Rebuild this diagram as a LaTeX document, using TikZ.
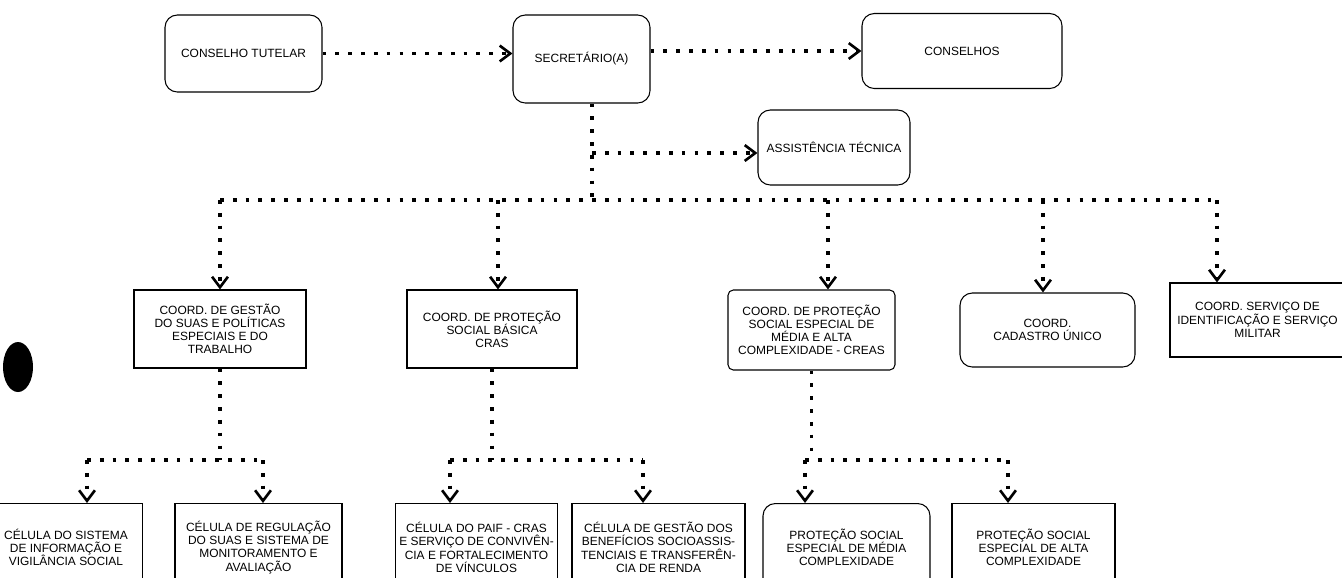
\documentclass[tikz,border=0pt]{standalone}
\usepackage{fontspec}
\setmainfont{Liberation Sans}
\usetikzlibrary{arrows.meta,calc}
\newcommand{\orgfont}{\fontsize{6.8}{7.5}\selectfont}
\tikzset{
  orgbox/.style={draw, line width=0.6pt, align=center, font=\orgfont, inner sep=2pt},
  orgrbox/.style={orgbox, rounded corners=7pt},
  link/.style={line width=2.1pt, dash pattern=on 2.1pt off 5.2pt},
  arr/.style={link, -{Straight Barb[length=6pt,width=9pt,line width=1.5pt]}}
}
\begin{document}
\begin{tikzpicture}
\clip (0,0) rectangle (26.84,-11.54);
\fill[white] (0,0) rectangle (26.84,-11.54);

\node[orgrbox, minimum width=3.14cm, minimum height=1.54cm] (tutelar) at (4.87,-1.07) {CONSELHO TUTELAR};
\node[orgrbox, minimum width=2.74cm, minimum height=1.76cm] (sec) at (11.63,-1.18) {SECRETÁRIO(A)};
\node[orgrbox, minimum width=4.00cm, minimum height=1.50cm] (cons) at (19.24,-1.02) {CONSELHOS};
\node[orgrbox, minimum width=3.04cm, minimum height=1.50cm] (assist) at (16.68,-2.95) {ASSISTÊNCIA TÉCNICA};

\node[orgbox, minimum width=3.44cm, minimum height=1.56cm] (m1) at (4.40,-6.58) {COORD. DE GESTÃO\\DO SUAS E POLÍTICAS\\ESPECIAIS E DO\\TRABALHO};
\node[orgbox, minimum width=3.40cm, minimum height=1.56cm] (m2) at (9.84,-6.58) {COORD. DE PROTEÇÃO\\SOCIAL BÁSICA\\CRAS};
\node[orgbox, rounded corners=3pt, minimum width=3.34cm, minimum height=1.60cm] (m3) at (16.23,-6.60) {COORD. DE PROTEÇÃO\\SOCIAL ESPECIAL DE\\MÉDIA E ALTA\\COMPLEXIDADE - CREAS};
\node[orgrbox, minimum width=3.50cm, minimum height=1.48cm] (m4) at (20.95,-6.60) {COORD.\\CADASTRO ÚNICO};
\node[orgbox, minimum width=3.50cm, minimum height=1.48cm] (m5) at (25.15,-6.40) {COORD. SERVIÇO DE\\IDENTIFICAÇÃO E SERVIÇO\\MILITAR};

\node[orgbox, anchor=north, minimum width=3.06cm, minimum height=1.75cm] (b1) at (1.32,-10.06) {CÉLULA DO SISTEMA\\DE INFORMAÇÃO E\\VIGILÂNCIA SOCIAL};
\node[orgbox, anchor=north, minimum width=3.34cm, minimum height=1.75cm] (b2) at (5.17,-10.06) {CÉLULA DE REGULAÇÃO\\DO SUAS E SISTEMA DE\\MONITORAMENTO E\\AVALIAÇÃO};
\node[orgbox, anchor=north, minimum width=2.74cm, minimum height=1.75cm] (b3) at (9.53,-10.06) {CÉLULA DO PAIF - CRAS\\E SERVIÇO DE CONVIVÊN-\\CIA E FORTALECIMENTO\\DE VÍNCULOS};
\node[orgbox, anchor=north, minimum width=3.46cm, minimum height=1.75cm] (b4) at (13.17,-10.06) {CÉLULA DE GESTÃO DOS\\BENEFÍCIOS SOCIOASSIS-\\TENCIAIS E TRANSFERÊN-\\CIA DE RENDA};
\node[orgrbox, anchor=north, minimum width=3.34cm, minimum height=1.75cm] (b5) at (16.93,-10.06) {PROTEÇÃO SOCIAL\\ESPECIAL DE MÉDIA\\COMPLEXIDADE};
\node[orgbox, anchor=north, minimum width=3.26cm, minimum height=1.75cm] (b6) at (20.67,-10.06) {PROTEÇÃO SOCIAL\\ESPECIAL DE ALTA\\COMPLEXIDADE};

\coordinate (jA) at (11.84,-3.06);
\coordinate (jB) at (11.84,-4.00);
\coordinate (d1) at (4.40,-4.00);
\coordinate (d2) at (9.96,-4.00);
\coordinate (d3) at (16.56,-4.00);
\coordinate (d4) at (20.86,-4.00);
\coordinate (d5) at (24.34,-4.00);
\coordinate (e1) at (1.74,-9.20);
\coordinate (e2) at (5.26,-9.20);
\coordinate (e3) at (9.00,-9.20);
\coordinate (e4) at (12.86,-9.20);
\coordinate (e5) at (16.10,-9.20);
\coordinate (e6) at (20.16,-9.20);

\draw[arr] (tutelar.east) -- (tutelar.east -| sec.west);
\draw[arr] (cons.west -| sec.east) -- (cons.west);
\draw[link] (sec.south -| jA) -- (jB);
\draw[arr] (jA) -- (jA -| assist.west);
\draw[link] (d1) -- (d5);
\foreach \d/\m in {d1/m1,d2/m2,d3/m3,d4/m4,d5/m5}
  \draw[arr] (\d) -- (\d |- \m.north);

\draw[link] (m1.south) -- (m1.south |- e1);
\draw[link] (e1) -- (e2);
\draw[link] (m2.south) -- (m2.south |- e3);
\draw[link] (e3) -- (e4);
\draw[link] (m3.south) -- (m3.south |- e5);
\draw[link] (e5) -- (e6);
\foreach \e/\b in {e1/b1,e2/b2,e3/b3,e4/b4,e5/b5,e6/b6}
  \draw[arr] (\e) -- (\e |- \b.north);

\fill (0.36,-7.34) ellipse (0.30cm and 0.50cm);
\end{tikzpicture}
\end{document}
